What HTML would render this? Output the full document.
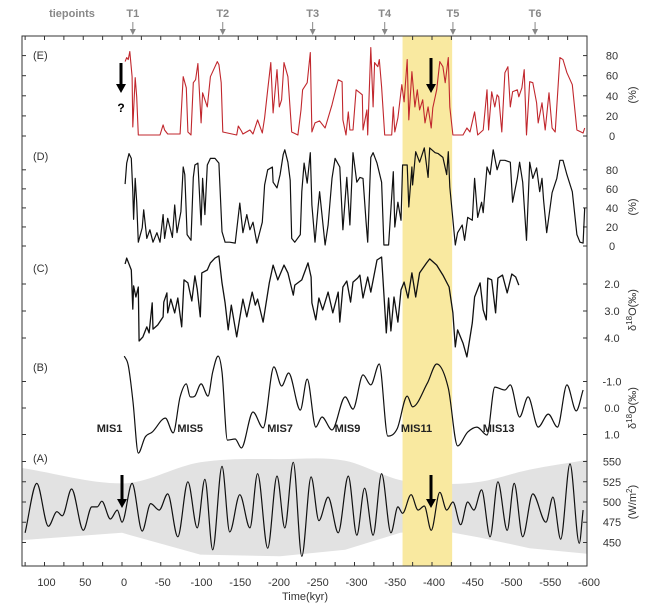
<!DOCTYPE html>
<html><head><meta charset="utf-8"><style>
body{margin:0;background:#fff}
svg{display:block;font-family:"Liberation Sans",Arial,sans-serif}
</style></head><body>
<svg id="c" width="651" height="604" viewBox="0 0 651 604" xmlns="http://www.w3.org/2000/svg"></svg>
<script>
const tieAges=[-14,-130,-246,-339,-427,-533];
const tieLabels=["T1","T2","T3","T4","T5","T6"];
const bandAges=[-362,-426];
const xTicks=[100,50,0,-50,-100,-150,-200,-250,-300,-350,-400,-450,-500,-550,-600];
const eTicks=[0,20,40,60,80];
const dTicks=[0,20,40,60,80];
const cTicks=[2.0,3.0,4.0];
const bTicks=[-1.0,0.0,1.0];
const aTicks=[450,475,500,525,550];
const eAge=[-4,-6,-8,-10,-13,-14,-17,-19,-21,-49,-53,-55,-59,-75,-79,-83,-85,-89,-92,-95,-98,-102,-104,-110,-114,-117,-123,-125,-128,-130,-148,-150,-154,-156,-165,-169,-175,-181,-184,-188,-192,-195,-200,-203,-206,-209,-214,-219,-227,-231,-233,-239,-243,-245,-249,-255,-262,-271,-279,-284,-285,-289,-292,-294,-298,-302,-307,-310,-311,-316,-317,-321,-324,-326,-330,-332,-335,-339,-348,-350,-352,-356,-361,-364,-368,-370,-374,-378,-381,-384,-388,-391,-395,-399,-401,-406,-410,-414,-417,-421,-423,-427,-440,-445,-449,-455,-459,-466,-471,-473,-477,-481,-484,-486,-490,-494,-498,-501,-504,-510,-512,-516,-519,-522,-526,-530,-535,-537,-542,-546,-551,-555,-559,-565,-569,-574,-581,-587,-595,-597];
const eVal=[74,78,76,84,59,9,58,39,1,1,11,6,2,2,59,48,4,1,53,56,72,13,43,29,59,64,74,71,53,4,1,10,5,2,6,2,16,3,18,46,73,23,66,29,36,73,59,4,1,26,46,53,83,4,13,15,8,31,56,54,16,1,24,6,6,46,43,41,6,26,1,88,29,73,69,76,49,1,1,29,4,18,51,34,76,16,64,29,46,26,36,13,29,8,28,46,74,69,53,78,29,1,1,8,4,24,1,6,46,6,44,29,41,39,4,63,69,29,44,46,39,48,66,1,54,53,33,13,33,6,43,8,4,78,76,63,51,6,3,8];
const dAge=[-4,-6,-9,-12,-14,-15,-17,-19,-21,-26,-28,-32,-36,-40,-45,-49,-53,-55,-59,-65,-68,-71,-76,-79,-81,-84,-89,-92,-94,-98,-102,-104,-107,-110,-114,-120,-125,-129,-133,-139,-146,-152,-156,-161,-165,-169,-174,-181,-184,-188,-194,-195,-200,-204,-208,-210,-214,-217,-219,-223,-230,-232,-235,-239,-243,-245,-249,-253,-255,-262,-266,-271,-275,-281,-285,-290,-294,-298,-303,-307,-311,-315,-317,-321,-324,-329,-335,-338,-344,-350,-352,-356,-360,-362,-368,-370,-374,-375,-379,-384,-390,-395,-397,-404,-408,-414,-419,-421,-423,-430,-433,-439,-442,-446,-452,-455,-459,-464,-466,-471,-475,-479,-484,-488,-494,-501,-504,-510,-513,-517,-522,-526,-530,-535,-539,-542,-544,-548,-555,-561,-565,-569,-574,-581,-587,-591,-595,-597];
const dVal=[65,87,97,92,57,28,71,46,4,19,38,8,17,4,14,4,33,8,29,9,43,14,36,83,75,12,6,72,85,87,22,71,33,85,92,92,87,15,4,4,3,45,14,33,17,25,3,25,64,80,83,67,61,75,96,101,88,69,8,4,12,57,87,66,98,43,4,41,57,1,22,71,92,83,17,72,22,98,67,72,71,25,4,93,98,87,67,1,1,78,20,46,27,85,85,41,83,64,99,88,103,72,103,98,97,93,75,99,62,1,14,22,6,30,27,71,30,46,35,83,75,101,80,90,90,88,46,71,88,67,6,88,71,82,57,71,48,14,56,71,90,90,75,57,12,4,3,40];
const cAge=[-4,-6,-12,-14,-15,-18,-21,-22,-27,-32,-35,-39,-40,-46,-53,-54,-58,-59,-63,-68,-72,-77,-80,-85,-90,-94,-97,-101,-103,-110,-114,-120,-125,-129,-133,-137,-141,-146,-148,-156,-161,-168,-172,-175,-182,-190,-195,-201,-209,-214,-221,-223,-232,-240,-244,-245,-250,-254,-259,-266,-272,-279,-281,-285,-290,-295,-298,-304,-307,-311,-317,-321,-329,-335,-341,-344,-347,-351,-356,-360,-364,-369,-374,-379,-384,-393,-397,-406,-414,-422,-427,-430,-433,-440,-445,-452,-455,-462,-466,-470,-472,-477,-482,-485,-491,-497,-503,-508,-512];
const cVal=[1.26,1.04,1.48,2.93,2.07,2.48,2.11,4.11,3.96,3.59,3.81,2.70,3.67,3.52,3.22,2.67,2.33,3.07,2.56,3.07,2.52,3.59,1.85,1.96,2.63,1.70,2.19,3.22,1.59,1.48,1.22,1.04,0.96,1.96,2.70,3.70,2.78,3.63,3.96,2.56,3.22,2.30,2.78,2.56,3.41,1.96,1.30,1.85,1.30,1.59,2.41,2.04,1.85,1.22,1.74,2.70,3.33,2.52,2.96,2.30,3.07,2.30,3.41,2.11,1.89,2.67,1.93,1.78,1.67,2.52,1.74,2.30,1.11,1.00,3.81,2.52,3.74,2.48,3.41,2.22,1.93,2.52,1.59,2.48,1.59,1.22,1.07,1.30,1.67,2.11,3.07,4.33,3.70,4.19,4.70,3.44,2.48,1.96,2.96,3.33,1.78,1.85,3.07,1.78,1.67,2.33,1.63,1.74,2.04];
const bAge=[-3,-8,-14,-21,-30,-39,-56,-66,-75,-83,-88,-94,-102,-111,-117,-124,-129,-136,-146,-154,-169,-182,-196,-206,-215,-230,-239,-250,-258,-271,-288,-298,-311,-321,-332,-343,-355,-368,-375,-394,-406,-421,-433,-446,-458,-471,-481,-494,-501,-513,-524,-537,-550,-562,-574,-586,-595];
const bVal=[-1.96,-1.62,-0.30,1.70,1.09,0.91,0.38,0.94,-0.42,-0.91,-0.42,-0.45,-0.91,-0.45,-1.36,-1.96,-1.36,1.21,1.17,1.51,0.15,0.75,-1.55,-0.83,-1.32,0.08,-1.09,0.72,0.34,0.83,-0.42,0.04,-1.25,-0.87,-1.66,1.06,0.79,-0.45,-0.04,-0.94,-1.66,-0.75,1.43,0.91,0.72,1.02,-0.79,-0.68,-0.87,0.34,-0.42,0.72,0.23,0.72,-0.87,0.11,-0.68];
const aAge=[125,110,95,84,77,65,50,39,32,26,15,6,0,-13,-26,-37,-48,-59,-72,-85,-97,-107,-117,-129,-139,-152,-165,-175,-188,-200,-210,-221,-232,-244,-254,-266,-279,-292,-303,-313,-324,-335,-347,-356,-362,-373,-382,-390,-399,-410,-419,-427,-437,-446,-454,-464,-475,-485,-497,-506,-517,-530,-547,-556,-566,-578,-590,-595];
const aVal=[462,523,470,488,483,516,465,494,494,501,479,490,475,523,464,498,490,510,457,525,468,528,441,544,463,509,468,535,443,532,468,549,433,531,477,506,462,532,459,517,459,535,462,494,486,509,490,495,465,512,490,500,472,500,490,515,457,525,465,523,457,510,475,506,454,547,449,490];
const envAge=[129,0,-101,-204,-288,-359,-410,-462,-526,-600];
const envUpper=[542,523,549,553,551,527,522,525,540,552];
const envLower=[453,462,435,433,441,462,465,456,443,436];
const misLabels=["MIS1","MIS5","MIS7","MIS9","MIS11","MIS13"];
const misAges=[16,-88,-204,-291,-380,-486];

const svg=document.getElementById('c');const NS="http://www.w3.org/2000/svg";
function mk(t,a,p){const e=document.createElementNS(NS,t);for(const k in a)e.setAttribute(k,a[k]);(p||svg).appendChild(e);return e;}
const L=22,R=587,T=36,B=566;
const x=a=>122-0.775*a;
const yE=v=>136-v*1.005, yD=v=>246-v/1.05, yC=v=>284+(v-2)*27, yB=v=>408+v*26.5, yA=v=>502-(v-500)/1.235;
function lin(ag,vl,fy){return ag.map((a,i)=>(i?'L':'M')+x(a).toFixed(1)+','+fy(vl[i]).toFixed(1)).join('');}
function mono(ag,vl,fy){const P=ag.map((a,i)=>[x(a),fy(vl[i])]);const n=P.length;const d=[],m=[];
for(let i=0;i<n-1;i++)d.push((P[i+1][1]-P[i][1])/(P[i+1][0]-P[i][0]));
for(let i=0;i<n;i++){if(i==0)m.push(d[0]);else if(i==n-1)m.push(d[n-2]);else m.push(d[i-1]*d[i]<=0?0:(d[i-1]+d[i])/2);}
let s='M'+P[0][0].toFixed(1)+','+P[0][1].toFixed(1);
for(let i=0;i<n-1;i++){const h=(P[i+1][0]-P[i][0])/3;s+='C'+(P[i][0]+h).toFixed(1)+','+(P[i][1]+m[i]*h).toFixed(1)+' '+(P[i+1][0]-h).toFixed(1)+','+(P[i+1][1]-m[i+1]*h).toFixed(1)+' '+P[i+1][0].toFixed(1)+','+P[i+1][1].toFixed(1);}return s;}

let up=mono(envAge,envUpper,yA);let lowP=envAge.map((a,i)=>[x(a),yA(envLower[i])]).reverse();
const env=mk('path',{d:up+lowP.map(p=>'L'+p[0].toFixed(1)+','+p[1].toFixed(1)).join('')+'Z',fill:'#e2e2e2'});

const band=mk('rect',{x:x(bandAges[0]),y:T,width:x(bandAges[1])-x(bandAges[0]),height:B-T,fill:'#f9e9a0'});

const fr=mk('rect',{x:L,y:T,width:R-L,height:B-T,fill:'none',stroke:'#333','stroke-width':1});

for(let a=125;a>=-600;a-=25){const xx=x(a);if(xx<L||xx>R)continue;
const t1=mk('line',{x1:xx,x2:xx,y1:T,y2:T+4,stroke:'#333'});
const t2=mk('line',{x1:xx,x2:xx,y1:B,y2:B-4,stroke:'#333'});}
xTicks.forEach(v=>{const t=mk('text',{x:x(v)+2,y:586,'font-size':11,'text-anchor':'middle',fill:'#333'});t.textContent=String(v);
});
const xt=mk('text',{x:305,y:600,'font-size':11,'text-anchor':'middle',fill:'#333'});xt.textContent='Time(kyr)';

function yaxis(ticks,fy,fmt,name){ticks.forEach(v=>{const yy=fy(v);
const a=mk('line',{x1:R,x2:R-4,y1:yy,y2:yy,stroke:'#333'});
const b=mk('line',{x1:L,x2:L+4,y1:yy,y2:yy,stroke:'#333'});
const t=mk('text',{x:612,y:yy+4,'font-size':11,'text-anchor':'middle',fill:'#333'});t.textContent=fmt(v);
});}
yaxis(eTicks,yE,v=>String(v),'panel-e');yaxis(dTicks,yD,v=>String(v),'panel-d');
yaxis(cTicks,yC,v=>v.toFixed(1),'panel-c');yaxis(bTicks,yB,v=>v.toFixed(1),'panel-b');yaxis(aTicks,yA,v=>String(v),'panel-a');
function unit(txt,yy,name,sup){const t=mk('text',{x:0,y:0,'font-size':11,'text-anchor':'middle',fill:'#333',transform:`translate(636,${yy}) rotate(-90)`});
if(sup){t.appendChild(document.createTextNode(txt[0]));const s=mk('tspan',{'font-size':8,dy:-4},t);s.textContent=txt[1];const r=mk('tspan',{dy:4},t);r.textContent=txt[2];}else t.textContent=txt;
}
unit('(%)',95,'panel-e-unit');unit('(%)',207,'panel-d-unit');unit(['δ','18','O(‰)'],310,'panel-c-unit',1);unit(['δ','18','O(‰)'],408,'panel-b-unit',1);unit(['(W/m','2',')'],502,'panel-a-unit',1);
[['(E)',59],['(D)',160],['(C)',272],['(B)',371],['(A)',462]].forEach(p=>{const t=mk('text',{x:33,y:p[1],'font-size':11,fill:'#333'});t.textContent=p[0];
});
const sE=mk('path',{d:lin(eAge,eVal,yE),fill:'none',stroke:'#c1272d','stroke-width':1.1,'stroke-linejoin':'round'});
const sD=mk('path',{d:lin(dAge,dVal,yD),fill:'none',stroke:'#111','stroke-width':1.2,'stroke-linejoin':'round'});
const sC=mk('path',{d:lin(cAge,cVal,yC),fill:'none',stroke:'#111','stroke-width':1.3,'stroke-linejoin':'round'});
const sB=mk('path',{d:mono(bAge,bVal,yB),fill:'none',stroke:'#111','stroke-width':1.2});
const sA=mk('path',{d:mono(aAge,aVal,yA),fill:'none',stroke:'#111','stroke-width':1.2});
misLabels.forEach((m,i)=>{const t=mk('text',{x:x(misAges[i]),y:432,'font-size':11,'font-weight':'bold','text-anchor':'middle',fill:'#222'});t.textContent=m;
});
const tp=mk('text',{x:72,y:17,'font-size':11,'font-weight':'bold','text-anchor':'middle',fill:'#888'});tp.textContent='tiepoints';

tieAges.forEach((a,i)=>{const xx=x(a);const t=mk('text',{x:xx,y:17,'font-size':11,'font-weight':'bold','text-anchor':'middle',fill:'#888'});t.textContent=tieLabels[i];

const l=mk('line',{x1:xx,x2:xx,y1:22,y2:33,stroke:'#888','stroke-width':1});
const h=mk('path',{d:`M${xx-3},29L${xx+3},29L${xx},35Z`,fill:'#888'});});
function arrow(xx,y1,y2,name){const g=mk('g',{});
mk('line',{x1:xx,x2:xx,y1:y1,y2:y2-8,stroke:'#000','stroke-width':3},g);mk('path',{d:`M${xx-5},${y2-9}L${xx+5},${y2-9}L${xx},${y2}Z`,fill:'#000'},g);}
arrow(121,63,93,'arrow-e-left');arrow(431,58,93,'arrow-e-mis11');arrow(122,475,508,'arrow-a-left');arrow(431,475,508,'arrow-a-mis11');
const q=mk('text',{x:121,y:112,'font-size':12,'font-weight':'bold','text-anchor':'middle',fill:'#000'});q.textContent='?';

</script>
</body></html>
